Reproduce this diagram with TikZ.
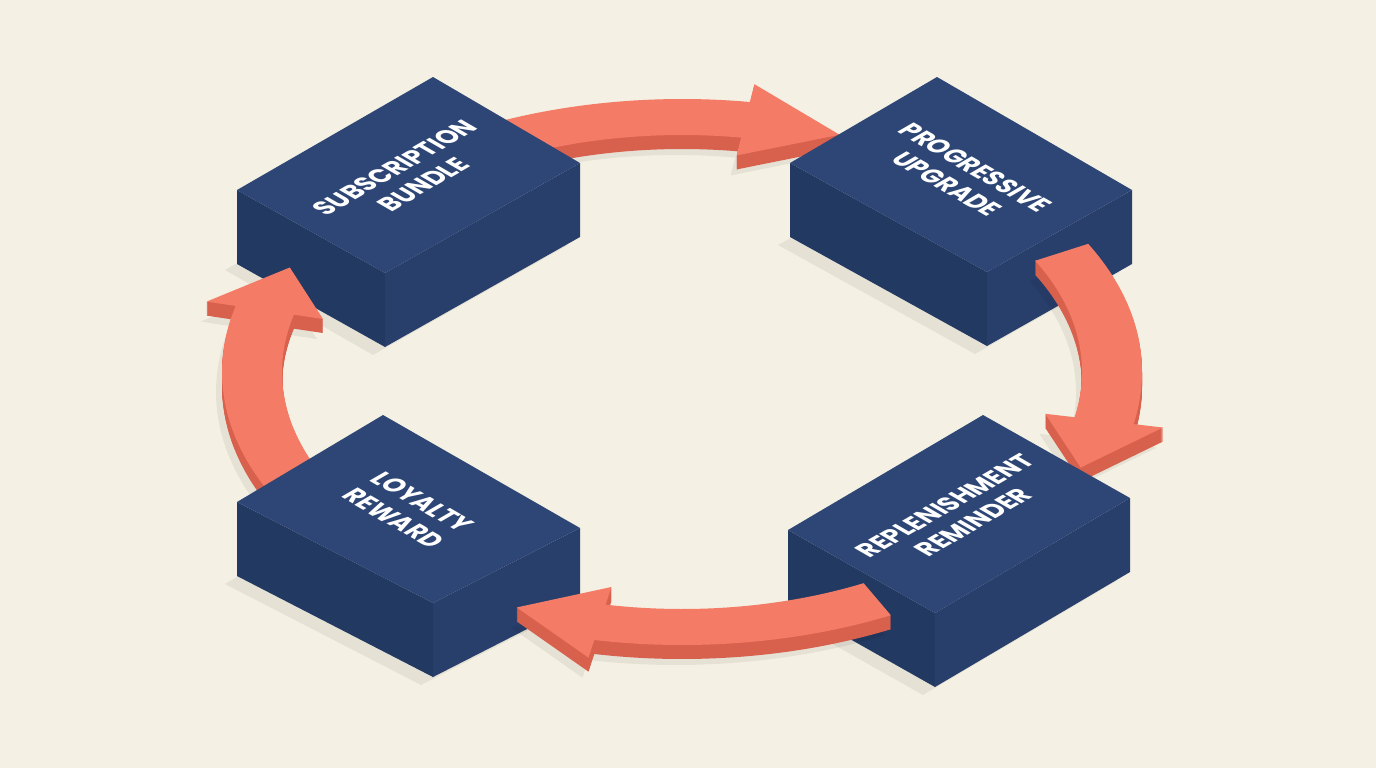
\documentclass[tikz,border=0pt]{standalone}
\usepackage{fontspec}
\newfontfamily\blockfont{Poppins}
\usetikzlibrary{calc}
\usetikzlibrary{positioning}

\definecolor{paper}{HTML}{F4F0E3}
\definecolor{navytop}{HTML}{2D4676}
\definecolor{navyleft}{HTML}{223961}
\definecolor{navyright}{HTML}{283F6C}
\definecolor{coraltop}{HTML}{F47B66}
\definecolor{coralside}{HTML}{D8614E}

% ring the arrows run on (px)
\def\ringX{682}
\def\ringY{372}
\newcommand{\ringarrow}[3]{%
  plot[domain=#1:#2,samples=40] ({\ringX+460*cos(\x)},{\ringY+273*sin(\x)})
  -- ({\ringX+490*cos(#2)},{\ringY+291*sin(#2)})
  -- ({\ringX+430*cos(#3)},{\ringY+255*sin(#3)})
  -- ({\ringX+370*cos(#2)},{\ringY+219*sin(#2)})
  -- plot[domain=#2:#1,samples=40] ({\ringX+400*cos(\x)},{\ringY+237*sin(\x)})
  -- cycle}
\newcommand{\solidarrow}[3]{%
  \fill[groundshade,shift={(-6,20)}] \ringarrow{#1}{#2}{#3};
  \foreach \d in {1,...,14}{\fill[coralside,shift={(0,\d)}] \ringarrow{#1}{#2}{#3};}
  \fill[coraltop] \ringarrow{#1}{#2}{#3};}

\begin{document}
\begin{tikzpicture}[x=0.75pt,y=0.75pt,yscale=-1,xscale=1,
  groundshade/.style={fill=black,fill opacity=0.06},
  topface/.style={fill=navytop},
  leftface/.style={fill=navyleft},
  rightface/.style={fill=navyright},
  blocklabel/.style={text=white,font=\blockfont\bfseries\fontsize{18}{22}\selectfont,align=center,inner sep=0pt}]
\useasboundingbox (0,0) rectangle (1376,768);
\fill[paper] (0,0) rectangle (1376,768);

%Shadows under the blocks
\fill[groundshade] (225,270) -- (373,355) -- (568,245) -- (421,160) -- cycle;
\fill[groundshade] (778,245) -- (975,354) -- (1120,272) -- (925,163) -- cycle;
\fill[groundshade] (776,612) -- (923,695) -- (1118,580) -- (971,497) -- cycle;
\fill[groundshade] (225,584) -- (421,685) -- (568,610) -- (371,497) -- cycle;

%Arrow: top
\solidarrow{245}{278.5}{291.5}

%Shape: Block subscription
\fill[leftface] (237,190) -- (385,273) -- (385,347) -- (237,264) -- cycle;
\fill[rightface] (385,273) -- (580,163) -- (580,237) -- (385,347) -- cycle;
\fill[topface] (433,77) -- (580,163) -- (385,273) -- (237,190) -- cycle;
%Shape: Block progressive
\fill[leftface] (790,163) -- (987,272) -- (987,346) -- (790,237) -- cycle;
\fill[rightface] (987,272) -- (1132,190) -- (1132,264) -- (987,346) -- cycle;
\fill[topface] (937,77) -- (1132,190) -- (987,272) -- (790,163) -- cycle;

%Arrow: right
\solidarrow{332}{371}{382}
%Arrow: left
\solidarrow{150}{194}{204.2}

%Shape: Block replenishment
\fill[leftface] (788,530) -- (935,613) -- (935,687) -- (788,604) -- cycle;
\fill[rightface] (935,613) -- (1130,498) -- (1130,572) -- (935,687) -- cycle;
\fill[topface] (983,415) -- (1130,498) -- (935,613) -- (788,530) -- cycle;
%Shape: Block loyalty
\fill[leftface] (237,502) -- (433,603) -- (433,677) -- (237,576) -- cycle;
\fill[rightface] (433,603) -- (580,528) -- (580,602) -- (433,677) -- cycle;
\fill[topface] (383,415) -- (580,528) -- (433,603) -- (237,502) -- cycle;

%Arrow: bottom
\solidarrow{63}{101}{112.6}

% Text Node
\node[blocklabel,cm={0.866,0.5,-0.97,0.56,(0,0)}] (subscription) at (409,176) {SUBSCRIPTION\\BUNDLE};
% Text Node
\node[blocklabel,cm={0.866,-0.5,0.97,0.56,(0,0)}] (progressive) at (961,176) {PROGRESSIVE\\UPGRADE};
% Text Node
\node[blocklabel,cm={0.866,0.5,-0.97,0.56,(0,0)}] (replenishment) at (959,514) {REPLENISHMENT\\REMINDER};
% Text Node
\node[blocklabel,cm={0.866,-0.5,0.97,0.56,(0,0)}] (loyalty) at (408,510) {LOYALTY\\REWARD};

\end{tikzpicture}
\end{document}
